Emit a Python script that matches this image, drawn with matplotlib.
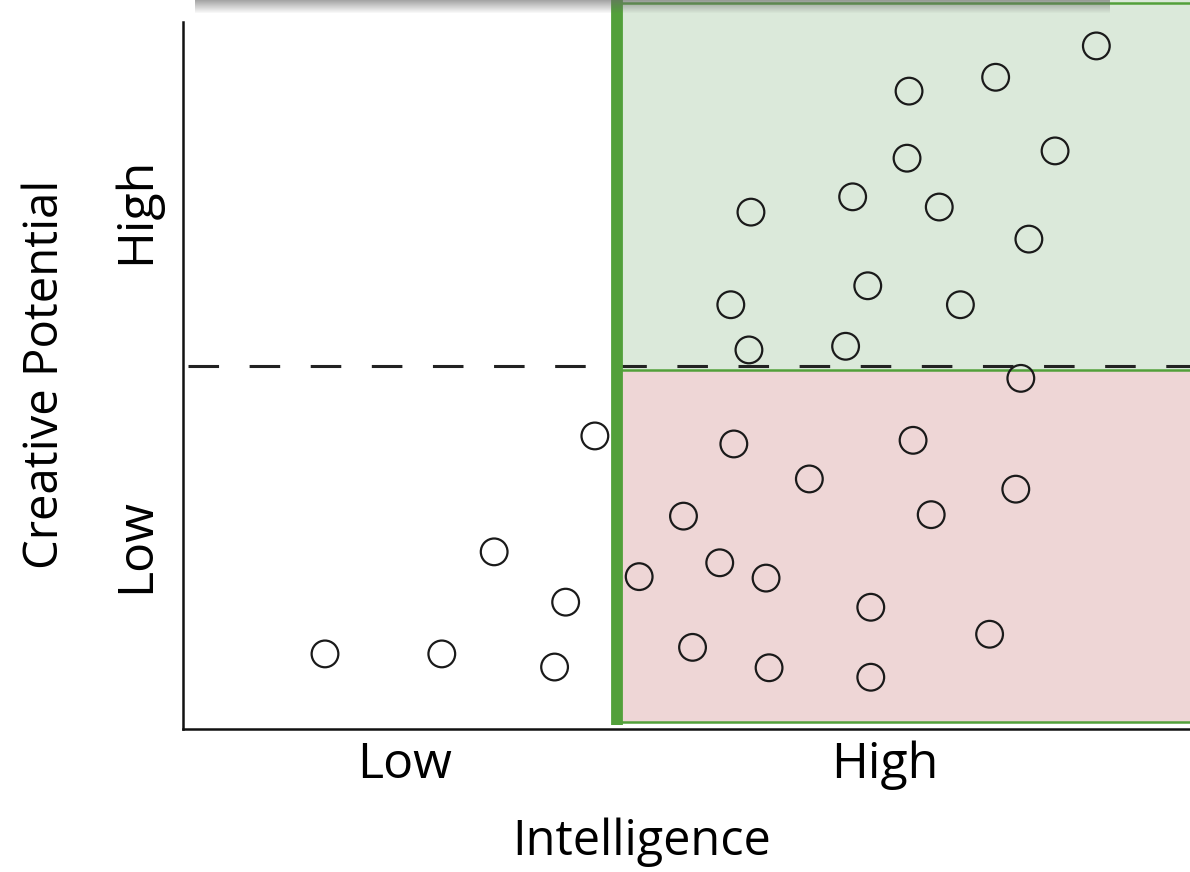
import matplotlib
matplotlib.use('Agg')
import matplotlib.pyplot as plt
from matplotlib.patches import Rectangle
import numpy as np

plt.rcParams['font.family'] = ['Open Sans', 'DejaVu Sans']

# Intelligence (x) and creative potential (y), both on a 0-100 scale
intelligence = [90.7, 80.7, 72.1, 71.9, 86.6, 66.5, 75.1, 56.4, 84.0, 68.0,
                54.4, 77.2, 56.2, 65.8, 83.2, 40.9, 54.7, 72.5, 62.2, 82.7,
                49.7, 74.3, 30.9, 45.3, 53.3, 57.9, 38.0, 68.3, 80.1, 50.6,
                14.1, 25.7, 36.9, 58.2, 68.3]
creativity = [93.7, 89.4, 87.5, 78.3, 79.3, 73.0, 71.6, 70.9, 67.2, 60.8,
              58.2, 58.2, 52.0, 52.5, 48.1, 40.2, 39.1, 39.6, 34.3, 32.9,
              29.2, 29.4, 24.3, 20.9, 22.8, 20.7, 17.4, 16.7, 13.0, 11.2,
              10.3, 10.3, 8.5, 8.4, 7.1]

iq_threshold = 43.1
cp_threshold = 49.2
dash_level = 49.8

x_ticks = [22.0, 69.7]
x_labels = ['Low', 'High']
y_ticks = [25.2, 71.2]
y_labels = ['Low', 'High']

GREEN = '#52a03a'
GREEN_FILL = '#dbe9da'
RED_FILL = '#eed6d6'

W, H = 1190, 872
fig = plt.figure(figsize=(W / 100, H / 100), dpi=100)
ax = fig.add_axes([183 / W, (H - 729) / H, (W - 183) / W, 729 / H])
ax.set_xlim(0, 100)
ax.set_ylim(0, 100)

# quadrant shading
ax.add_patch(Rectangle((iq_threshold, cp_threshold), 100 - iq_threshold,
                       100 - cp_threshold, facecolor=GREEN_FILL,
                       edgecolor='none', zorder=0))
ax.add_patch(Rectangle((iq_threshold, 1.0), 100 - iq_threshold,
                       cp_threshold - 1.0, facecolor=RED_FILL,
                       edgecolor='none', zorder=0))
for yy in (1.0, cp_threshold, 99.6):
    ax.plot([iq_threshold, 100], [yy, yy], color=GREEN, lw=1.8, zorder=1,
            solid_capstyle='butt')

# dashed boundary for creative potential
ax.plot([0.5, 100], [dash_level, dash_level], color='#222222', lw=2.2,
        dashes=(10, 10), zorder=2)

# thick intelligence boundary
ax.plot([iq_threshold, iq_threshold], [0.5, 100], color=GREEN, lw=8.5,
        solid_capstyle='butt', zorder=3)

ax.scatter(intelligence, creativity, s=370, facecolors='none',
           edgecolors='#1a1a1a', linewidths=1.6, zorder=4)

for side in ('top', 'right'):
    ax.spines[side].set_visible(False)
ax.spines['left'].set_bounds(0, 97)
ax.spines['left'].set_linewidth(1.8)
ax.spines['bottom'].set_linewidth(1.8)
ax.spines['left'].set_color('#111111')
ax.spines['bottom'].set_color('#111111')

ax.set_xticks(x_ticks)
ax.set_xticklabels(x_labels, fontsize=36)
ax.set_yticks(y_ticks)
ax.set_yticklabels(y_labels, fontsize=36, rotation=90, va='center')
ax.tick_params(length=0)
ax.tick_params(axis='x', pad=8)
ax.tick_params(axis='y', pad=16)

ax.set_xlabel('Intelligence', fontsize=35)
ax.xaxis.set_label_coords(0.455, -0.122)
ax.set_ylabel('Creative Potential', fontsize=34)
ax.yaxis.set_label_coords(-0.113, 0.486)

# gray shadow bar at the top edge
for i, a in enumerate(np.linspace(0.6, 0.0, 14)):
    fig.add_artist(Rectangle((195 / W, 1 - (i + 1) / H), (1110 - 195) / W,
                             1 / H, transform=fig.transFigure,
                             facecolor='#6a6a6a', alpha=a, edgecolor='none',
                             zorder=10))

fig.savefig('out.png', dpi=100, facecolor='white')
